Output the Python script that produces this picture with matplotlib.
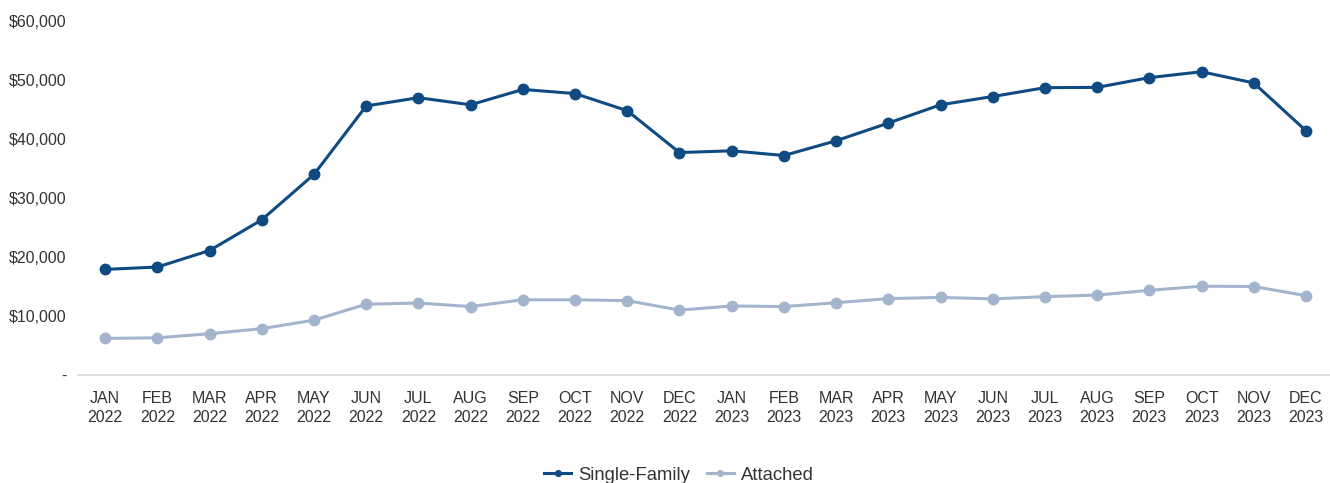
import matplotlib.pyplot as plt
from matplotlib.ticker import FuncFormatter

# monthly values
months = ['JAN', 'FEB', 'MAR', 'APR', 'MAY', 'JUN', 'JUL', 'AUG', 'SEP', 'OCT', 'NOV', 'DEC']
years = ['2022', '2023']
single_family = [17900, 18300, 21100, 26300, 34000, 45600, 47000, 45800, 48400, 47700, 44800, 37700,
                 38000, 37200, 39700, 42700, 45800, 47200, 48700, 48750, 50400, 51400, 49500, 41400]
attached = [6200, 6300, 7000, 7850, 9300, 12000, 12200, 11600, 12750, 12750, 12600, 11000,
            11700, 11600, 12250, 12950, 13150, 12900, 13280, 13550, 14350, 15050, 15000, 13450]
y_ticks = [0, 10000, 20000, 30000, 40000, 50000, 60000]

labels = [m + '\n' + y for y in years for m in months]

plt.rcParams['font.family'] = ['Liberation Sans', 'DejaVu Sans']

fig = plt.figure(figsize=(13.3, 4.83), dpi=100)
ax = fig.add_axes([78 / 1330, 1 - 375 / 483, 1 - 78 / 1330, (375 - 21) / 483])

x = list(range(len(labels)))
ax.plot(x, single_family, color='#0f4a82', lw=2.2, marker='o', ms=7.5, label='Single-Family')
ax.plot(x, attached, color='#a3b5cd', lw=2.2, marker='o', ms=7.5, label='Attached')

ax.set_xlim(-0.52, 23.46)
ax.set_ylim(0, 60000)
ax.set_yticks(y_ticks)
ax.yaxis.set_major_formatter(FuncFormatter(lambda v, p: '-' if v == 0 else '${:,.0f}'.format(v)))
ax.set_xticks(x)
ax.set_xticklabels(labels, linespacing=1.3)

for s in ['top', 'right', 'left']:
    ax.spines[s].set_visible(False)
ax.spines['bottom'].set_color('#d9d9d9')
ax.spines['bottom'].set_linewidth(1.2)
ax.tick_params(axis='both', length=0, labelsize=11.5, colors='#333333')
ax.tick_params(axis='x', pad=11.5)
ax.tick_params(axis='y', pad=8.5)

fig.legend(loc='center', bbox_to_anchor=(679 / 1330, 1 - 475 / 483), ncol=2, frameon=False,
           fontsize=13.3, handlelength=1.45, handletextpad=0.4, columnspacing=0.9,
           markerscale=0.55, labelcolor='#333333')

fig.savefig('out.png', dpi=100, facecolor='white')
